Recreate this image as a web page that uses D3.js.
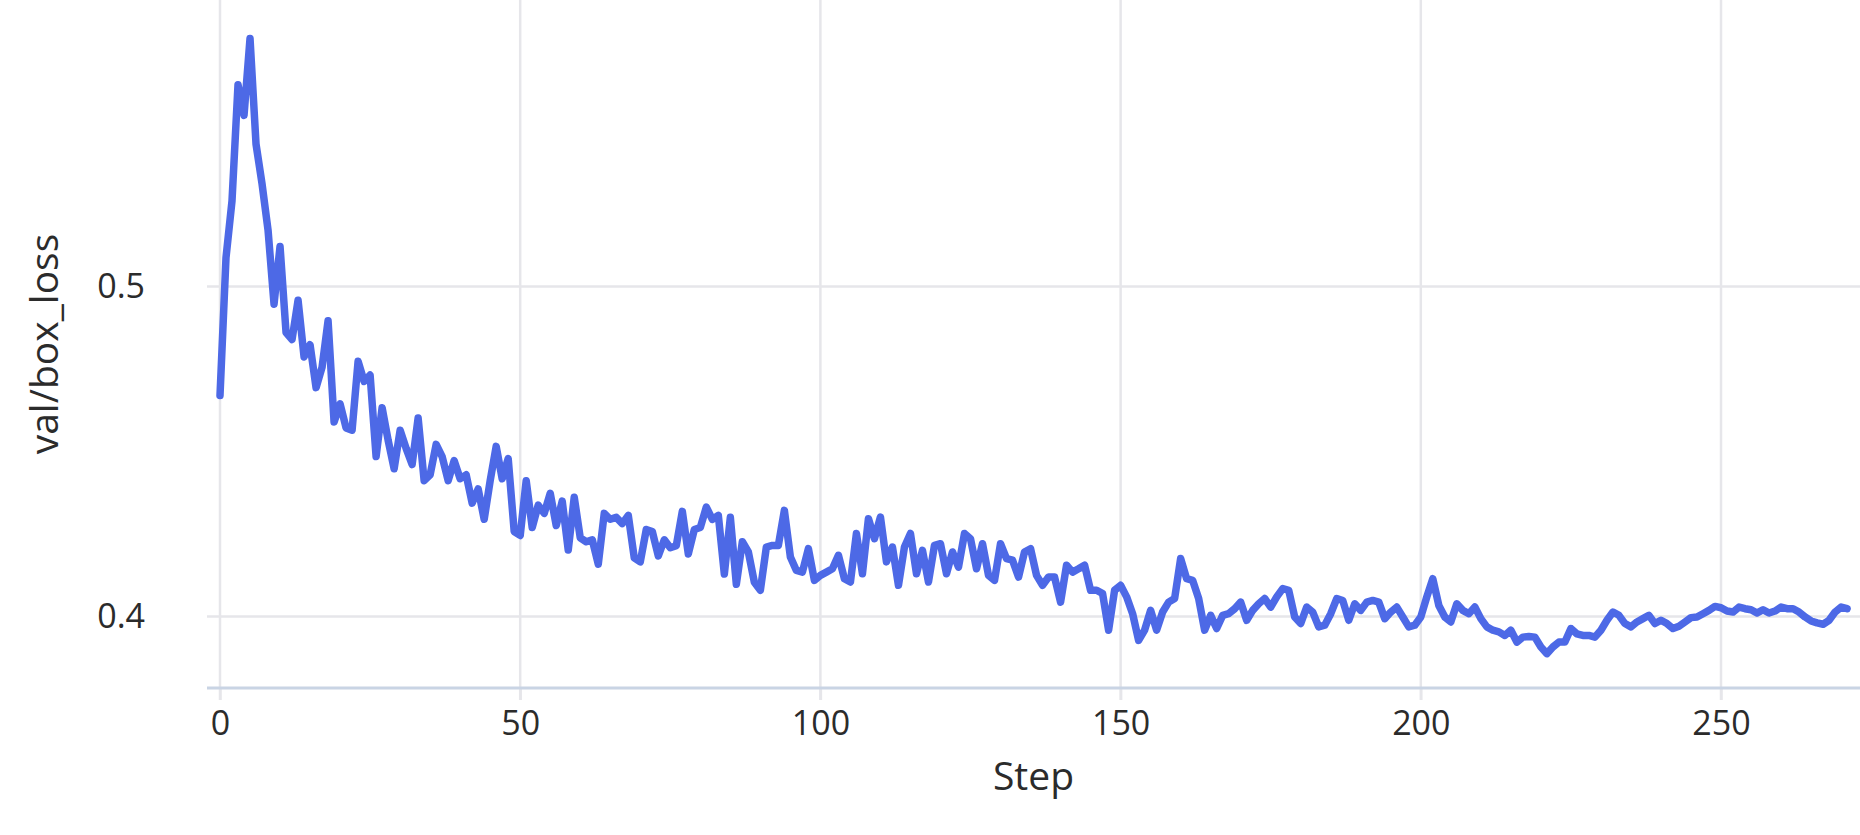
<!DOCTYPE html>
<html>
<head>
<meta charset="utf-8">
<script src="https://cdn.jsdelivr.net/npm/d3@7"></script>
<style>
  html, body { margin: 0; padding: 0; background: #fff; }
  svg { display: block; font-family: "Open Sans", "Noto Sans", sans-serif; }
</style>
</head>
<body>
<svg id="chart"></svg>
<script>
// val/box_loss per step
const lossStart = [
  0.4668, 0.5086, 0.5258, 0.561, 0.5517, 0.575, 0.543, 0.531, 0.517, 0.4945,
  0.512, 0.4859, 0.4838, 0.4957, 0.4785, 0.4822, 0.4692, 0.4754, 0.4895, 0.4588,
  0.4643, 0.457, 0.4563, 0.4772, 0.4711, 0.473, 0.4483, 0.4631, 0.4533, 0.4446,
  0.4563, 0.4508, 0.4459, 0.46, 0.441, 0.4428, 0.452, 0.4483, 0.441, 0.4471,
  0.4416, 0.4428, 0.4342, 0.4385, 0.4293, 0.441, 0.4514, 0.4416, 0.4477, 0.4256,
  0.4244, 0.441, 0.4268, 0.4336, 0.4311, 0.4372, 0.4274, 0.4348, 0.42, 0.436,
  0.4237, 0.4225, 0.4231, 0.4157, 0.4311, 0.4293, 0.4299, 0.428, 0.4305, 0.4176,
  0.4164, 0.4262, 0.4256, 0.4182, 0.4231, 0.4207, 0.4213, 0.4317, 0.4188, 0.4262,
  0.4268, 0.433, 0.4293, 0.4305, 0.4127, 0.4299, 0.4096, 0.4225, 0.4194, 0.4102
];
const lossMiddle = [
  0.4078, 0.4209, 0.4214, 0.4214, 0.432, 0.4179, 0.4138, 0.4133, 0.4204, 0.4108,
  0.4123, 0.4133, 0.4143, 0.4184, 0.4113, 0.4103, 0.425, 0.4128, 0.4295, 0.4234,
  0.43, 0.4164, 0.4209, 0.4093, 0.4209, 0.425, 0.4128, 0.4199, 0.4103, 0.4214,
  0.4219, 0.4128, 0.4194, 0.4148, 0.425, 0.4234, 0.4143, 0.4219, 0.4123, 0.4108,
  0.4219, 0.4174, 0.4169, 0.4118, 0.4194, 0.4204, 0.4123, 0.4093, 0.4118, 0.4118,
  0.4042, 0.4154, 0.4133, 0.4143, 0.4154, 0.4078, 0.4078, 0.4068, 0.3957, 0.4078,
  0.4093, 0.4058, 0.4007, 0.3926, 0.3957, 0.4017, 0.3957, 0.4012, 0.4042, 0.4053,
  0.4174, 0.4113, 0.4108, 0.4053, 0.3957, 0.4002, 0.3962, 0.4002, 0.4007, 0.4022,
  0.4042, 0.3987, 0.4017, 0.4037, 0.4053, 0.4027, 0.4058, 0.4083, 0.4078, 0.3997
];
const lossEnd = [
  0.3977, 0.4027, 0.4012, 0.3967, 0.3972, 0.4007, 0.4053, 0.4047, 0.3987, 0.4037,
  0.4017, 0.4042, 0.4047, 0.4042, 0.3992, 0.4012, 0.4027, 0.3997, 0.3967, 0.3972,
  0.3997, 0.4058, 0.4113, 0.4032, 0.3997, 0.3982, 0.4037, 0.4017, 0.4007, 0.4027,
  0.3992, 0.3967, 0.3957, 0.3952, 0.3941, 0.3957, 0.3921, 0.3936, 0.3938, 0.3936,
  0.3906, 0.3886, 0.3906, 0.3921, 0.3921, 0.3962, 0.3946, 0.3941, 0.3941, 0.3936,
  0.3957, 0.3987, 0.4012, 0.4002, 0.3977, 0.3967, 0.3982, 0.3992, 0.4002, 0.3977,
  0.3987, 0.3977, 0.3962, 0.3969, 0.3982, 0.3995, 0.3997, 0.4007, 0.4017, 0.4029,
  0.4025, 0.4015, 0.4012, 0.4027, 0.4022, 0.4019, 0.4009, 0.4019, 0.4009, 0.4015,
  0.4027, 0.4022, 0.4022, 0.4012, 0.3997, 0.3985, 0.3979, 0.3975, 0.3987, 0.4012,
  0.4027, 0.4022
];
const xTicks = [0, 50, 100, 150, 200, 250];
const yTicks = [0.4, 0.5];

const loss = lossStart.concat(lossMiddle, lossEnd);
const points = loss.map((v, i) => ({step: i, value: v}));

const W = 1860, H = 835;
const plot = {left: 207, right: 1860, top: 0, bottom: 688};
const gridColor = "#e6e6ea";
const textColor = "#2b2b2b";

const svg = d3.select("#chart").attr("width", W).attr("height", H);

const x = d3.scaleLinear().domain([-2.165, 273.15]).range([plot.left, plot.right]);
const y = d3.scaleLinear().domain([0.37818, 0.58667]).range([plot.bottom, plot.top]);

// horizontal grid + y labels
const yAxis = svg.append("g")
  .attr("transform", `translate(${plot.left},0)`)
  .call(d3.axisLeft(y).tickValues(yTicks).tickSize(-(plot.right - plot.left)).tickFormat(d3.format(".1f")));
yAxis.select(".domain").remove();
yAxis.selectAll(".tick line").attr("stroke", gridColor).attr("stroke-width", 2.5);
yAxis.selectAll(".tick text")
  .attr("x", -62).attr("dy", "0.35em")
  .attr("fill", textColor).style("font-size", "34px")
  .style("font-family", "'Open Sans', sans-serif");

// vertical grid
svg.append("g").selectAll("line")
  .data(xTicks)
  .join("line")
    .attr("x1", d => x(d)).attr("x2", d => x(d))
    .attr("y1", plot.top).attr("y2", plot.bottom + 12)
    .attr("stroke", gridColor).attr("stroke-width", 2.5);

// x axis
const xAxis = svg.append("g")
  .attr("transform", `translate(0,${plot.bottom})`)
  .call(d3.axisBottom(x).tickValues(xTicks).tickSize(12).tickPadding(11));
xAxis.select(".domain").remove();
xAxis.selectAll(".tick line").attr("stroke", gridColor).attr("stroke-width", 2.5);
xAxis.selectAll(".tick text")
  .attr("fill", textColor).style("font-size", "34px")
  .style("font-family", "'Open Sans', sans-serif");

svg.append("line")
  .attr("x1", plot.left).attr("x2", plot.right)
  .attr("y1", plot.bottom).attr("y2", plot.bottom)
  .attr("stroke", "#c9d4e4").attr("stroke-width", 3);

// the loss curve
const line = d3.line()
  .x(d => x(d.step))
  .y(d => y(d.value));

svg.append("path")
  .datum(points)
  .attr("fill", "none")
  .attr("stroke", "#4d69e6")
  .attr("stroke-width", 7.5)
  .attr("stroke-linejoin", "round")
  .attr("stroke-linecap", "round")
  .attr("d", line);

// titles
svg.append("text")
  .attr("x", (plot.left + plot.right) / 2)
  .attr("y", 776)
  .attr("dy", "0.35em")
  .attr("text-anchor", "middle")
  .attr("fill", textColor)
  .style("font-size", "39px")
  .text("Step");

svg.append("text")
  .attr("transform", `translate(44,${(plot.top + plot.bottom) / 2}) rotate(-90)`)
  .attr("dy", "0.35em")
  .attr("text-anchor", "middle")
  .attr("fill", textColor)
  .style("font-size", "39px")
  .text("val/box_loss");
</script>
</body>
</html>
